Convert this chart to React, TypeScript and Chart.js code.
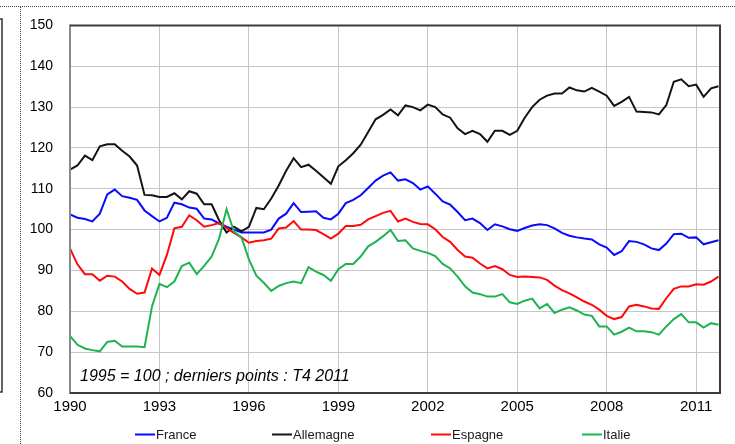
import { useEffect, useRef } from 'react';
import { Chart, registerables } from 'chart.js';

Chart.register(...registerables);

// ---- Data (quarterly, T1 1990 .. T4 2011, base 1995 = 100) ----
const startYear = 1990;
const quarters: number[] = Array.from({ length: 88 }, (_, i) => startYear + i / 4);
const xTickYears = [1990, 1993, 1996, 1999, 2002, 2005, 2008, 2011];
const yMin = 60;
const yMax = 150;
const yStep = 10;

const seriesNames = ['France', 'Allemagne', 'Espagne', 'Italie'];

const france = [
  103.7, 102.9, 102.6, 102.0, 103.9, 108.6, 109.8, 108.2, 107.8, 107.3, 104.7, 103.3,
  102.0, 102.9, 106.6, 106.2, 105.4, 105.1, 102.7, 102.5, 101.5, 100.7, 100.0, 99.3,
  99.3, 99.3, 99.3, 100.0, 102.7, 103.9, 106.5, 104.3, 104.4, 104.5, 102.9, 102.5,
  103.9, 106.5, 107.3, 108.4, 110.2, 112.0, 113.2, 114.0, 112.0, 112.3, 111.4, 109.8,
  110.6, 108.8, 106.9, 106.1, 104.3, 102.3, 102.7, 101.6, 99.9, 101.3, 100.8, 100.1,
  99.7, 100.4, 101.0, 101.3, 101.1, 100.3, 99.2, 98.5, 98.1, 97.8, 97.6, 96.4,
  95.6, 93.8, 94.7, 97.2, 97.0, 96.4, 95.4, 95.0, 96.6, 98.9, 99.0, 98.0,
  98.1, 96.4, 96.9, 97.4,
];

const allemagne = [
  114.7, 115.7, 118.1, 117.0, 120.4, 120.9, 120.9, 119.3, 117.9, 115.7, 108.5, 108.4,
  108.0, 108.0, 108.9, 107.4, 109.4, 108.8, 106.2, 106.2, 102.3, 99.3, 100.7, 99.6,
  100.7, 105.3, 105.0, 107.6, 110.8, 114.4, 117.5, 115.3, 115.9, 114.4, 112.8, 111.2,
  115.5, 117.0, 118.7, 120.8, 123.9, 127.0, 128.1, 129.4, 128.0, 130.4, 130.0, 129.2,
  130.6, 130.0, 128.2, 127.4, 124.8, 123.4, 124.2, 123.4, 121.5, 124.2, 124.2, 123.2,
  124.2, 127.4, 130.0, 131.8, 132.8, 133.3, 133.3, 134.8, 134.1, 133.8, 134.7, 133.8,
  132.8, 130.3, 131.3, 132.5, 128.9, 128.8, 128.7, 128.2, 130.5, 136.2, 136.8, 135.1,
  135.5, 132.5, 134.6, 135.1,
];

const espagne = [
  95.4, 91.5, 89.1, 89.1, 87.5, 88.7, 88.5, 87.3, 85.5, 84.3, 84.6, 90.5,
  88.9, 93.8, 100.3, 100.7, 103.5, 102.3, 100.7, 101.1, 101.6, 100.4, 99.2, 98.1,
  96.8, 97.2, 97.4, 97.8, 100.3, 100.5, 102.1, 100.0, 100.0, 99.9, 98.9, 97.8,
  99.0, 100.9, 100.9, 101.2, 102.5, 103.3, 104.1, 104.6, 102.0, 102.7, 101.9, 101.4,
  101.3, 100.1, 98.2, 97.0, 95.0, 93.4, 93.1, 91.7, 90.5, 91.1, 90.3, 88.9,
  88.4, 88.5, 88.4, 88.3, 87.7, 86.3, 85.2, 84.4, 83.4, 82.4, 81.6, 80.4,
  78.9, 78.1, 78.6, 81.2, 81.6, 81.2, 80.7, 80.6, 83.2, 85.5, 86.1, 86.1,
  86.6, 86.5, 87.3, 88.5,
];

const italie = [
  74.0, 71.8, 70.9, 70.5, 70.2, 72.5, 72.8, 71.4, 71.4, 71.4, 71.2, 81.2,
  86.7, 85.9, 87.3, 91.1, 91.9, 89.1, 91.1, 93.4, 97.8, 105.0, 99.5, 98.1,
  92.7, 88.7, 87.0, 85.0, 86.2, 86.9, 87.3, 86.9, 90.8, 89.7, 88.9, 87.5,
  90.3, 91.6, 91.6, 93.4, 95.9, 97.0, 98.4, 99.9, 97.2, 97.4, 95.4, 94.8,
  94.3, 93.5, 91.6, 90.5, 88.5, 86.1, 84.6, 84.2, 83.6, 83.6, 84.2, 82.2,
  81.8, 82.6, 83.1, 80.7, 81.8, 79.6, 80.4, 81.0, 80.2, 79.2, 78.9, 76.3,
  76.3, 74.3, 75.0, 76.0, 75.1, 75.1, 74.9, 74.3, 76.3, 78.1, 79.3, 77.3,
  77.3, 76.0, 77.1, 76.7,
];

const seriesValues = [france, allemagne, espagne, italie];
const seriesColors = ['#0a0aff', '#141414', '#ff0a0a', '#1eb350'];
const annotationText = '1995 = 100 ; derniers points : T4 2011';

const FONT = '"Liberation Sans", Arial, sans-serif';

const decorPlugin = {
  id: 'decor',
  afterDraw(chart: any) {
    const { ctx, chartArea: a } = chart;
    ctx.save();

    // plot frame
    ctx.lineWidth = 2;
    ctx.strokeStyle = '#8a8a8a';
    ctx.beginPath();
    ctx.moveTo(a.left, a.top - 1);
    ctx.lineTo(a.left, a.bottom + 1);
    ctx.stroke();
    ctx.strokeStyle = '#3c3c3c';
    ctx.beginPath();
    ctx.moveTo(a.left, a.top);
    ctx.lineTo(a.right, a.top);
    ctx.lineTo(a.right, a.bottom);
    ctx.lineTo(a.left, a.bottom);
    ctx.stroke();

    // annotation inside the plot
    ctx.font = `italic 16px ${FONT}`;
    ctx.fillStyle = '#000';
    ctx.textAlign = 'left';
    ctx.textBaseline = 'middle';
    ctx.fillText(annotationText, a.left + 10, a.bottom - 16);

    // legend
    const legendStarts = [135, 272, 431, 582];
    const ly = 434.5;
    ctx.font = `13px ${FONT}`;
    chart.data.datasets.forEach((ds: any, i: number) => {
      const x0 = legendStarts[i];
      ctx.strokeStyle = ds.borderColor;
      ctx.lineWidth = 2;
      ctx.beginPath();
      ctx.moveTo(x0, ly);
      ctx.lineTo(x0 + 20, ly);
      ctx.stroke();
      ctx.fillStyle = '#1a1a1a';
      ctx.fillText(ds.label, x0 + 21, ly + 1);
    });

    // page remnants around the chart
    ctx.strokeStyle = '#444';
    ctx.lineWidth = 1;
    ctx.setLineDash([1, 1]);
    ctx.beginPath();
    ctx.moveTo(0, 6.5);
    ctx.lineTo(735, 6.5);
    ctx.moveTo(20.5, 7);
    ctx.lineTo(20.5, 444);
    ctx.stroke();
    ctx.setLineDash([]);
    ctx.strokeStyle = '#333';
    ctx.lineWidth = 1.5;
    ctx.beginPath();
    ctx.moveTo(0, 19);
    ctx.lineTo(2, 19);
    ctx.lineTo(2, 392);
    ctx.lineTo(0, 392);
    ctx.stroke();

    ctx.restore();
  },
};

export default function App() {
  const canvasRef = useRef<HTMLCanvasElement | null>(null);

  useEffect(() => {
    document.body.style.margin = '0';
    const canvas = canvasRef.current;
    if (!canvas) return;
    const chart = new Chart(canvas, {
      type: 'line',
      data: {
        datasets: seriesNames.map((name, s) => ({
          label: name,
          data: seriesValues[s].map((v, i) => ({ x: quarters[i], y: v })),
          borderColor: seriesColors[s],
          backgroundColor: seriesColors[s],
          borderWidth: 2,
          pointRadius: 0,
          tension: 0,
          fill: false,
          order: seriesNames.length - 1 - s,
        })),
      },
      options: {
        animation: false,
        responsive: false,
        devicePixelRatio: 1,
        parsing: true,
        layout: { padding: { top: 24, right: 15, left: 0, bottom: 0 } },
        plugins: {
          legend: { display: false },
          tooltip: { enabled: false },
          title: { display: false },
        },
        scales: {
          x: {
            type: 'linear',
            min: startYear,
            max: 2011.8,
            afterBuildTicks: (scale: any) => {
              scale.ticks = xTickYears.map((v) => ({ value: v }));
            },
            afterFit: (scale: any) => {
              scale.height = 51;
            },
            grid: { color: '#c6c6c6', lineWidth: 1, drawTicks: false },
            border: { display: false },
            ticks: {
              autoSkip: false,
              maxRotation: 0,
              padding: 5,
              color: '#000',
              font: { family: FONT, size: 15 },
              callback: (v: any) => String(v),
            },
          },
          y: {
            type: 'linear',
            min: yMin,
            max: yMax,
            afterFit: (scale: any) => {
              scale.width = 70;
            },
            grid: { color: '#c6c6c6', lineWidth: 1, drawTicks: false },
            border: { display: false },
            ticks: {
              stepSize: yStep,
              padding: 17,
              color: '#000',
              font: { family: FONT, size: 14 },
            },
          },
        },
      },
      plugins: [decorPlugin],
    });
    return () => chart.destroy();
  }, []);

  return (
    <div style={{ width: 735, height: 444, background: '#fff' }}>
      <canvas ref={canvasRef} width={735} height={444} style={{ display: 'block' }} />
    </div>
  );
}
